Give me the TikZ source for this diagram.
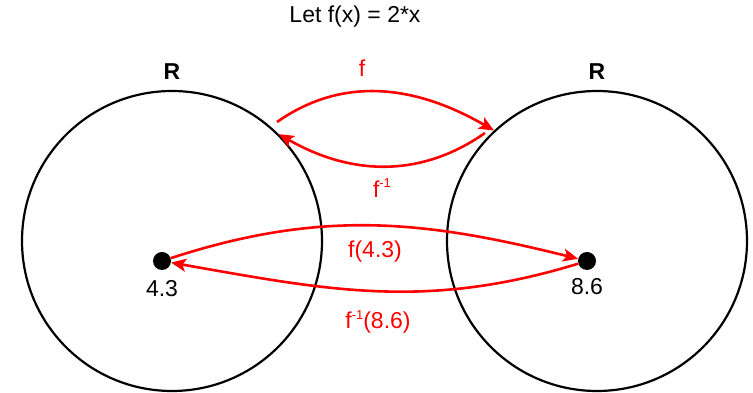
\documentclass[tikz,border=0pt]{standalone}
\usepackage{fontspec}
\setmainfont{Liberation Sans}
\usetikzlibrary{positioning,arrows.meta}
\definecolor{mapred}{RGB}{255,0,0}
\newcommand{\finv}{f\raisebox{0.42em}{\fontsize{13}{13}\selectfont -1}}

\begin{document}
\begin{tikzpicture}[
        x=1pt, y=1pt,
        >={Stealth[length=15pt, width=13pt, inset=3.5pt]},
        set/.style={draw, circle, line width=2.2pt, minimum size=300pt, inner sep=0pt},
        dot/.style={circle, fill=black, minimum size=18pt, inner sep=0pt},
        lbl/.style={font=\fontsize{23}{27}\selectfont, inner sep=0pt},
        red lbl/.style={lbl, text=mapred},
        map/.style={->, mapred, line width=2.6pt}
    ]
        \useasboundingbox (0,0) rectangle (753,393);

        \node[lbl] (title) at (355,376) {Let f(x) = 2*x};

        \node[set] (setL) at (172,152) {};
        \node[set] (setR) at (597,152) {};
        \node[lbl, font=\fontsize{23}{27}\selectfont\bfseries] (nameL) at (172,321) {R};
        \node[lbl, font=\fontsize{23}{27}\selectfont\bfseries] (nameR) at (597,321) {R};

        \node[dot] (dotL) at (162,132) {};
        \node[dot] (dotR) at (587,132) {};
        \node[lbl, below=10pt of dotL] (valL) {4.3};
        \node[lbl, below=8pt of dotR] (valR) {8.6};

        % the maps between the two sets
        \coordinate (fstart) at (277,271);
        \coordinate (gstart) at (485,260);
        \draw[map] (fstart) to[out=35, in=150] (setR.133);
        \draw[map] (gstart) to[out=215, in=-30] (setL.45);
        \node[red lbl] (fname) at (362,325) {f};
        \node[red lbl] (gname) at (382,205) {\finv};

        % one element and its image
        \draw[map] (dotL) to[out=18, in=166] (dotR);
        \draw[map] (dotR) to[out=197, in=-10] (dotL);
        \node[red lbl] (fval) at (375,141) {f(4.3)};
        \node[red lbl] (gval) at (378,71) {\finv(8.6)};
    \end{tikzpicture}
\end{document}
